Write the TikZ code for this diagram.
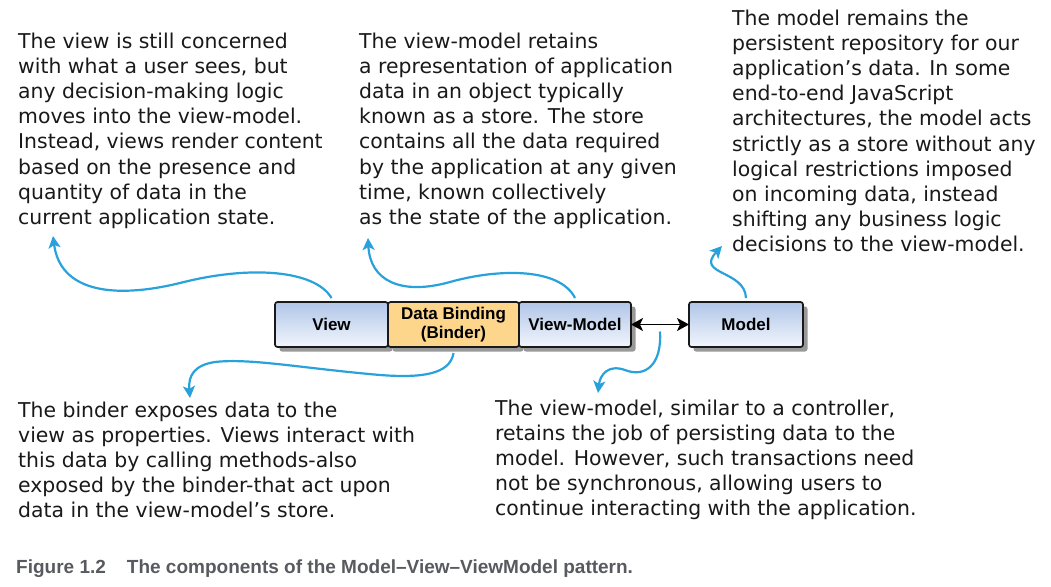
\documentclass[tikz,border=0pt]{standalone}
\usepackage{fontspec}
\setmainfont{DejaVu Sans}
\newfontfamily\boxfont{Liberation Sans}
\usetikzlibrary{positioning,arrows.meta,shadows}

\definecolor{notecolor}{RGB}{41,161,219}
\definecolor{boxtop}{RGB}{176,197,232}
\definecolor{boxbottom}{RGB}{242,246,252}
\definecolor{bindfill}{RGB}{253,214,140}
\definecolor{captiongray}{RGB}{88,90,95}

\tikzset{
	part/.style={draw=black!90, line width=1.7pt, rounded corners=2.5pt, minimum height=45pt,
		inner sep=0pt, outer sep=0pt, align=center, font=\boxfont\bfseries\fontsize{17}{19.5}\selectfont,
		drop shadow={shadow xshift=4.5pt, shadow yshift=-4.5pt, fill=black!50, opacity=.8}},
	bluepart/.style={part, top color=boxtop, bottom color=boxbottom},
	bindpart/.style={part, fill=bindfill},
	note/.style={anchor=base west, inner sep=0pt, align=left, text=black!90,
		font=\fontsize{20.4}{25.2}\selectfont},
	pointer/.style={draw=notecolor, line width=2.2pt, -{Stealth[length=12pt,width=12pt,inset=3pt]}},
}

\begin{document}
\begin{tikzpicture}[x=1pt,y=-1pt]
	\useasboundingbox (0,0) rectangle (1051,586);
	% the four parts
	\node[bluepart, minimum width=113pt] (view) at (331.5,324.5) {View};
	\node[bindpart, minimum width=131pt, right=0pt of view] (bind) {Data Binding\\(Binder)};
	\node[bluepart, minimum width=112pt, right=0pt of bind] (vm) {View-Model};
	\node[bluepart, minimum width=114pt, right=58pt of vm] (model) {Model};
	\draw[line width=1.6pt, {Stealth[length=12pt,width=13pt,inset=3pt]}-{Stealth[length=12pt,width=13pt,inset=3pt]}] (vm) -- (model) coordinate[pos=0.5] (mid);

	% notes (placed at the baseline of their last line)
	\node[note] (viewnote) at (18,224.4) {The view is still concerned\\with what a user sees, but\\any decision-making logic\\moves into the view-model.\\Instead, views render content\\based on the presence and\\quantity of data in the\\current application state.};
	\node[note] (storenote) at (359,224.4) {The view-model retains\\a representation of application\\data in an object typically\\known as a store. The store\\contains all the data required\\by the application at any given\\time, known collectively\\as the state of the application.};
	\node[note] (modelnote) at (732,251.8) {The model remains the\\persistent repository for our\\application's data. In some\\end-to-end JavaScript\\architectures, the model acts\\strictly as a store without any\\logical restrictions imposed\\on incoming data, instead\\shifting any business logic\\decisions to the view-model.};
	\node[note] (bindnote) at (18,517.8) {The binder exposes data to the\\view as properties. Views interact with\\this data by calling methods-also\\exposed by the binder-that act upon\\data in the view-model's store.};
	\node[note] (syncnote) at (495,515.8) {The view-model, similar to a controller,\\retains the job of persisting data to the\\model. However, such transactions need\\not be synchronous, allowing users to\\continue interacting with the application.};

	% pointers
	\coordinate (viewtip) at (53,236);
	\coordinate (storetip) at (368,238);
	\coordinate (modeltip) at (722,246);
	\coordinate (bindtip) at (190,398);
	\coordinate (synctip) at (598,393);
	\draw[pointer] ([yshift=4pt]view.north) .. controls (315,270) and (250,265) .. (180,283) .. controls (110,300) and (60,290) .. (viewtip);
	\draw[pointer] ([yshift=4pt]vm.north) .. controls (560,268) and (500,268) .. (450,282) .. controls (400,296) and (370,280) .. (storetip);
	\draw[pointer] ([yshift=4pt]model.north) .. controls (745,270) and (695,275) .. (modeltip);
	\draw[pointer] ([yshift=-6pt]bind.south) .. controls (450,375) and (420,378) .. (380,375) .. controls (300,368) and (250,358) .. (215,362) .. controls (195,365) and (188,375) .. (bindtip);
	\draw[pointer] ([yshift=-7pt]mid) .. controls (662,365) and (645,378) .. (625,370) .. controls (608,364) and (600,375) .. (synctip);

	% caption
	\node[anchor=base west, inner sep=0pt, text=captiongray, font=\boxfont\bfseries\fontsize{19}{22}\selectfont] (caption) at (16,573) {Figure 1.2\hspace{21pt}The components of the Model–View–ViewModel pattern.};
\end{tikzpicture}
\end{document}
